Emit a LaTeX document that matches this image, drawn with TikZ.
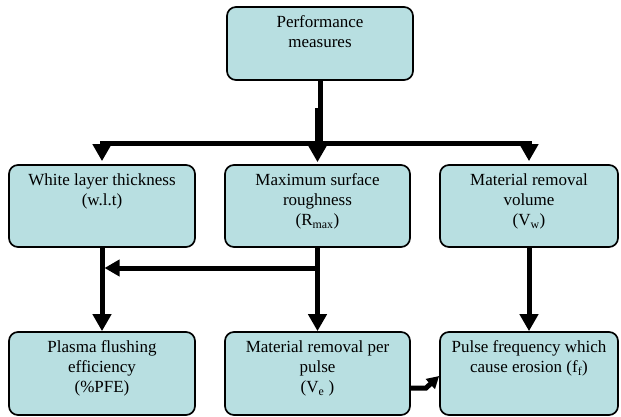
\documentclass[tikz,border=0pt]{standalone}
\usepackage{fontspec}
\setmainfont{Liberation Serif}
\usetikzlibrary{arrows.meta,calc}
\definecolor{boxfill}{RGB}{184,223,225}
\begin{document}
\begin{tikzpicture}[x=1pt,y=-1pt,
  box/.style={draw=black,line width=1.7pt,rounded corners=9pt,fill=boxfill,inner sep=0pt},
  txt/.style={anchor=north,align=center,inner sep=0pt,font=\fontsize{17}{20}\selectfont},
  ln/.style={line width=5pt,line cap=butt},
  arr/.style={line width=5pt,line join=miter,-{Triangle[length=17pt,width=18pt]}},
  darr/.style={line width=5pt,line join=miter,{Triangle[length=17pt,width=18pt]}-{Triangle[length=17pt,width=18pt]}},
  harr/.style={line width=5pt,-{Triangle[length=15pt,width=16pt]}},
  sarr/.style={line width=5pt,line join=miter,-{Triangle[length=12pt,width=13pt]}}]
\useasboundingbox (0,0) rectangle (621,417);
% boxes
\node[box,minimum width=186pt,minimum height=73pt] (perf) at (320,43.5) {};
\node[box,minimum width=186pt,minimum height=82pt] (wlt) at (102,206) {};
\node[box,minimum width=185pt,minimum height=82pt] (rmax) at (317.5,206) {};
\node[box,minimum width=178pt,minimum height=82pt] (mrv) at (529,206) {};
\node[box,minimum width=186pt,minimum height=83pt] (pfe) at (102,373.5) {};
\node[box,minimum width=185pt,minimum height=83pt] (ve) at (317.5,373.5) {};
\node[box,minimum width=178pt,minimum height=83pt] (ff) at (529,373.5) {};
% texts
\node[txt] (perf-t) at ([yshift=-9.5pt]perf.north) {Performance\\measures};
\node[txt] (wlt-t) at ([yshift=-9.5pt]wlt.north) {White layer thickness\\(w.l.t)};
\node[txt] (rmax-t) at ([yshift=-9.5pt]rmax.north) {Maximum surface\\roughness\\(R\textsubscript{max})};
\node[txt] (mrv-t) at ([yshift=-9.5pt]mrv.north) {Material removal\\volume\\(V\textsubscript{w})};
\node[txt] (pfe-t) at ([yshift=-9.5pt]pfe.north) {Plasma flushing\\efficiency\\(\%PFE)};
\node[txt] (ve-t) at ([yshift=-9.5pt]ve.north) {Material removal per\\pulse\\(V\textsubscript{e} )};
\node[txt] (ff-t) at ([yshift=-9.5pt]ff.north) {Pulse frequency which\\cause erosion (f\textsubscript{f})};
% helper coordinates
\coordinate (hy) at (0,144);
\coordinate (ky) at (0,108);
\coordinate (my) at (0,268);
\coordinate (s1) at (426,388);
\coordinate (s2) at (0,376);
% connectors
\draw[ln] (perf.south) -- (perf.south |- hy);
\draw[darr,shorten <=3pt,shorten >=3pt] (wlt.north) -- (wlt.north |- hy) -- (mrv.north |- hy) -- (mrv.north);
\draw[arr,shorten >=2pt] (rmax.north |- ky) -- (rmax.north);
\draw[arr] (wlt.south) -- (pfe.north);
\draw[arr] (rmax.south) -- (ve.north);
\draw[arr] (mrv.south) -- (ff.north);
\draw[ln] (rmax.south |- my) -- ++(2.5pt,0);
\draw[harr,shorten >=2.5pt] (rmax.south |- my) -- (wlt.south |- my);
\draw[sarr] (ve.east |- s1) -- (s1) -- (ff.west |- s2);
\end{tikzpicture}
\end{document}
